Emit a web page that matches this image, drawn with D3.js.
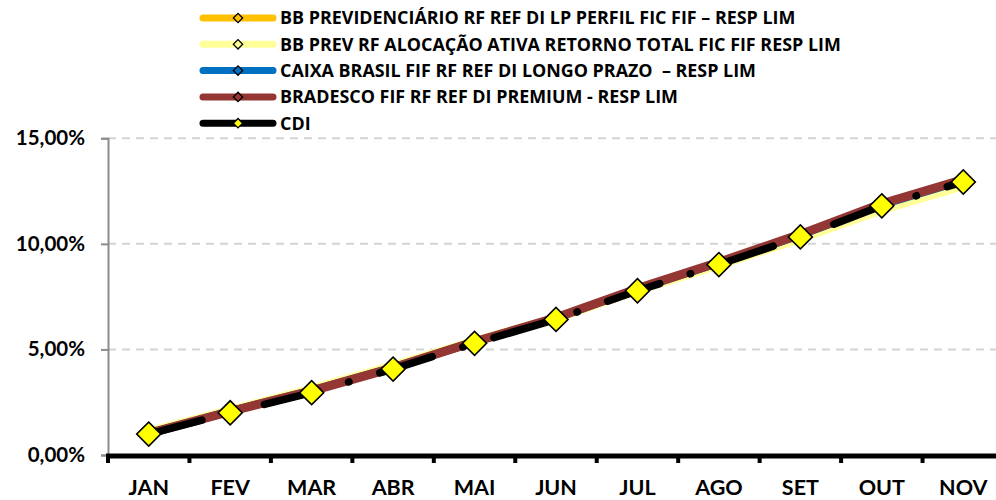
<!DOCTYPE html>
<html><head><meta charset="utf-8">
<script src="https://cdn.jsdelivr.net/npm/d3@7"></script>
<style>body{margin:0;background:#fff}svg{display:block;font-family:Lato,"Open Sans",sans-serif;font-weight:700}</style>
</head><body><svg id="c" width="996" height="500"></svg>
<script>
const months = ["JAN","FEV","MAR","ABR","MAI","JUN","JUL","AGO","SET","OUT","NOV"];
const seriesNames = [
  "BB PREVIDENCIÁRIO RF REF DI LP PERFIL FIC FIF – RESP LIM",
  "BB PREV RF ALOCAÇÃO ATIVA RETORNO TOTAL FIC FIF RESP LIM",
  "CAIXA BRASIL FIF RF REF DI LONGO PRAZO  – RESP LIM",
  "BRADESCO FIF RF REF DI PREMIUM - RESP LIM",
  "CDI"
];
const bbPrevid   = [1.04, 2.08, 3.06, 4.15, 5.36, 6.49, 7.86, 9.10, 10.41, 11.85, 12.99];
const bbAlocacao = [1.10, 2.12, 3.12, 4.22, 5.38, 6.48, 7.80, 9.00, 10.25, 11.62, 12.75];
const caixa      = [1.03, 2.07, 3.05, 4.14, 5.36, 6.49, 7.86, 9.11, 10.42, 11.86, 13.00];
const bradesco   = [1.02, 2.06, 3.04, 4.13, 5.36, 6.50, 7.88, 9.13, 10.45, 11.90, 13.05];
const cdi        = [0.99, 2.00, 2.95, 4.07, 5.29, 6.42, 7.78, 9.02, 10.33, 11.80, 12.93];
const yTicks = [0, 5, 10, 15];

const seriesValues = [bbPrevid, bbAlocacao, caixa, bradesco, cdi];
const colors = ["#FFC000", "#FFFF99", "#0070C0", "#943634", "#000000"];
const markerFill = ["#FFC000", "#FFFF99", "#0070C0", "#943634", "#FFFF00"];

const svg = d3.select("#c");
const x = d3.scaleBand().domain(months).range([108, 1004]);
const y = d3.scaleLinear().domain([0, 15]).range([455, 138.3]);
const fmt = v => d3.format(".2f")(v).replace(".", ",") + "%";

// gridlines
svg.append("g").selectAll("line").data(yTicks.filter(t => t > 0)).join("line")
  .attr("x1", 108).attr("x2", 996).attr("y1", d => y(d)).attr("y2", d => y(d))
  .attr("stroke", "#d4d4d4").attr("stroke-width", 2).attr("stroke-dasharray", "8,6");

// y axis
const yAxis = svg.append("g").attr("transform", "translate(108,0)")
  .call(d3.axisLeft(y).tickValues(yTicks).tickFormat(fmt).tickSize(7).tickPadding(16));
yAxis.select(".domain").attr("stroke", "#8c8c8c").attr("stroke-width", 2);
yAxis.selectAll(".tick line").attr("stroke", "#8c8c8c").attr("stroke-width", 2);
yAxis.selectAll("text").attr("font-size", 20.5).attr("font-weight", 700).attr("fill", "#000")
  .attr("font-family", "Lato, sans-serif");

// x axis
const xAxis = svg.append("g").attr("transform", "translate(0,456)")
  .call(d3.axisBottom(x).tickSize(0).tickPadding(0));
xAxis.select(".domain").remove();
xAxis.selectAll("text").attr("font-size", 21.5).attr("font-weight", 700).attr("fill", "#000")
  .attr("font-family", "Lato, sans-serif").attr("y", 39).attr("dy", null);
svg.append("line").attr("x1", 106).attr("x2", 996).attr("y1", 456).attr("y2", 456)
  .attr("stroke", "#000").attr("stroke-width", 5);
const bounds = months.map(m => x(m)).concat([x.range()[1]]);
svg.append("g").selectAll("line").data(bounds).join("line")
  .attr("x1", d => d).attr("x2", d => d).attr("y1", 456).attr("y2", 463)
  .attr("stroke", "#000").attr("stroke-width", 4);

// lines
const cx = i => x(months[i]) + x.bandwidth() / 2;
const line = d3.line().x((d, i) => cx(i)).y(d => y(d));
const widths = [8, 9, 8, 9, 7.5];
seriesValues.forEach((vals, k) => {
  const p = svg.append("path").datum(vals).attr("d", line)
    .attr("fill", "none").attr("stroke", colors[k]).attr("stroke-width", widths[k])
    .attr("stroke-linejoin", "round").attr("stroke-linecap", "round");
  if (k === 4) p.attr("stroke-dasharray", "55,32,0.5,32");
});

// CDI markers
svg.append("g").selectAll("rect").data(cdi).join("rect")
  .attr("x", -8.5).attr("y", -8.5).attr("width", 17).attr("height", 17)
  .attr("transform", (d, i) => `translate(${cx(i)},${y(d)}) rotate(45)`)
  .attr("fill", "#FFFF00").attr("stroke", "#000").attr("stroke-width", 1.6);

// legend
const lg = svg.append("g");
seriesNames.forEach((name, k) => {
  const yy = 18 + k * 26.3;
  lg.append("line").attr("x1", 203).attr("x2", 273).attr("y1", yy).attr("y2", yy)
    .attr("stroke", colors[k]).attr("stroke-width", 7).attr("stroke-linecap", "round");
  lg.append("rect").attr("x", -3.3).attr("y", -3.3).attr("width", 6.6).attr("height", 6.6)
    .attr("transform", `translate(238,${yy}) rotate(45)`)
    .attr("fill", markerFill[k]).attr("stroke", "#000").attr("stroke-width", 1.3);
  lg.append("text").attr("x", 280).attr("y", yy).attr("dy", "0.36em")
    .attr("font-family", "'Open Sans', sans-serif").style("white-space", "pre")
    .attr("font-size", 17.9).attr("font-weight", 700).attr("fill", "#000").text(name);
});
</script></body></html>
